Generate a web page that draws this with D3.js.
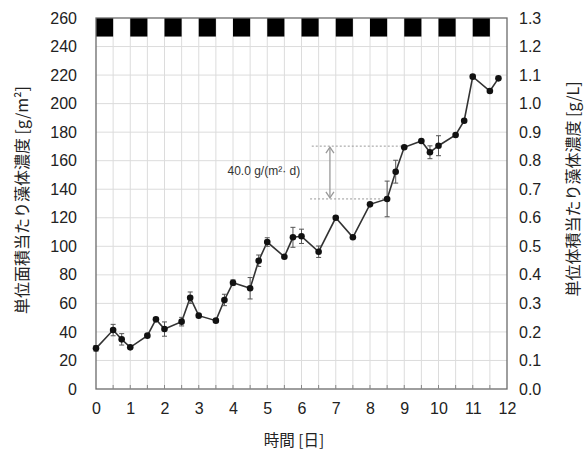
<!DOCTYPE html>
<html><head><meta charset="utf-8">
<script src="https://cdn.jsdelivr.net/npm/d3@7"></script>
<style>body{margin:0;background:#fff}svg{display:block}</style>
</head><body>
<svg id="c" width="586" height="453"></svg>
<script>
// ---- data ----
const days = [0,0.5,0.75,1,1.5,1.75,2,2.5,2.75,3,3.5,3.75,4,4.5,4.75,5,5.5,5.75,6,6.5,7,7.5,8,8.5,8.75,9,9.5,9.75,10,10.5,10.75,11,11.5,11.75];
const density = [28.5,41.3,34.8,29.2,37.4,48.8,42,47.2,64,51.4,47.9,62.4,74.5,70.6,89.9,103,92.7,106.3,107,96.2,120,106.3,129.4,133.2,152.3,169.4,173.8,165.9,170.5,178,188,218.9,208.8,217.7];
const errors = [2,4,4,0,1,1,5,3,4,0,1,4,2,7.5,4,3,0,7,5,4,0,0,0,12.5,8,0,0,4.5,7,0,0,0,0,0];
const darkStart = [0,1,2,3,4,5,6,7,8,9,10,11];
const darkLength = 0.5;
const darkBand = [247,260];
const xTicks = [0,1,2,3,4,5,6,7,8,9,10,11,12];
const yTicksLeft = [0,20,40,60,80,100,120,140,160,180,200,220,240,260];
const yTicksRight = [0,0.1,0.2,0.3,0.4,0.5,0.6,0.7,0.8,0.9,1.0,1.1,1.2,1.3];
const annotTop = {y:170.2, x0:6.3, x1:9.0};
const annotBottom = {y:133.2, x0:6.25, x1:8.5};
const annotArrowX = 6.83;
const annotText = "40.0 g/(m²· d)";
const annotTextPos = {x:4.9, y:150};

// ---- chart ----
const svg = d3.select("#c");
const FONT = "'Liberation Sans', 'Noto Sans CJK JP', sans-serif";
const CJK = "'Noto Sans CJK JP', sans-serif";
const x = d3.scaleLinear().domain([0,12]).range([96,507]);
const y = d3.scaleLinear().domain([0,260]).range([389,18]);
const y2 = d3.scaleLinear().domain([0,1.3]).range([389,18]);

// grid
const grid = svg.append("g");
grid.selectAll("line.v").data(d3.range(0.5,12,0.5)).join("line")
  .attr("x1",d=>x(d)).attr("x2",d=>x(d)).attr("y1",y(0)).attr("y2",y(260))
  .attr("stroke","#dcdcdc").attr("stroke-width",1);
grid.selectAll("line.h").data(yTicksLeft.filter(d=>d>0&&d<260)).join("line")
  .attr("x1",x(0)).attr("x2",x(12)).attr("y1",d=>y(d)).attr("y2",d=>y(d))
  .attr("stroke","#dcdcdc").attr("stroke-width",1);

// dark periods
svg.append("g").selectAll("rect").data(darkStart).join("rect")
  .attr("x",d=>x(d)).attr("width",d=>x(d+darkLength)-x(d))
  .attr("y",y(darkBand[1])).attr("height",y(darkBand[0])-y(darkBand[1]))
  .attr("fill","#000");

// frame
svg.append("rect").attr("x",x(0)).attr("y",y(260)).attr("width",x(12)-x(0)).attr("height",y(0)-y(260))
  .attr("fill","none").attr("stroke","#6a6a6a").attr("stroke-width",1.3);

// x ticks inward
svg.append("g").selectAll("line").data(d3.range(0.5,12,0.5)).join("line")
  .attr("x1",d=>x(d)).attr("x2",d=>x(d)).attr("y1",y(0)).attr("y2",y(0)-4)
  .attr("stroke","#888");

// axes labels
const xAxis = d3.axisBottom(x).tickValues(xTicks).tickSize(0).tickPadding(14).tickFormat(d3.format("d"));
const gx = svg.append("g").attr("transform",`translate(0,${y(0)})`).call(xAxis);
gx.select(".domain").remove();
gx.selectAll("text").attr("font-size",16).attr("font-family",FONT).attr("fill","#222");

const yAxisL = d3.axisLeft(y).tickValues(yTicksLeft).tickSize(0).tickPadding(19).tickFormat(d3.format("d"));
const gy = svg.append("g").attr("transform",`translate(${x(0)},0)`).call(yAxisL);
gy.select(".domain").remove();
gy.selectAll("text").attr("font-size",16).attr("font-family",FONT).attr("fill","#222");

const yAxisR = d3.axisRight(y2).tickValues(yTicksRight).tickSize(0).tickPadding(12).tickFormat(d3.format(".1f"));
const gy2 = svg.append("g").attr("transform",`translate(${x(12)},0)`).call(yAxisR);
gy2.select(".domain").remove();
gy2.selectAll("text").attr("font-size",16).attr("font-family",FONT).attr("fill","#222");

// titles
svg.append("text").attr("x",294).attr("y",446).attr("text-anchor","middle")
  .attr("font-size",15.5).attr("font-family",CJK).attr("fill","#222").text("時間 [日]");
svg.append("text").attr("transform","translate(28,200) rotate(-90)").attr("text-anchor","middle")
  .attr("font-size",16).attr("font-family",CJK).attr("fill","#222").text("単位面積当たり藻体濃度 [g/m²]");
svg.append("text").attr("transform","translate(579,189) rotate(-90)").attr("text-anchor","middle")
  .attr("font-size",16).attr("font-family",CJK).attr("fill","#222").text("単位体積当たり藻体濃度 [g/L]");

// annotation
const ann = svg.append("g");
[annotTop, annotBottom].forEach(a=>{
  ann.append("line").attr("x1",x(a.x0)).attr("x2",x(a.x1)).attr("y1",y(a.y)).attr("y2",y(a.y))
    .attr("stroke","#999").attr("stroke-dasharray","2,2").attr("stroke-width",1);
});
const ax = x(annotArrowX), ayt = y(annotTop.y)+1, ayb = y(annotBottom.y)-1;
ann.append("line").attr("x1",ax).attr("x2",ax).attr("y1",ayt).attr("y2",ayb).attr("stroke","#999").attr("stroke-width",1.3);
ann.append("path").attr("d",`M${ax-4},${ayt+6}L${ax},${ayt}L${ax+4},${ayt+6}M${ax-4},${ayb-6}L${ax},${ayb}L${ax+4},${ayb-6}`)
  .attr("fill","none").attr("stroke","#999").attr("stroke-width",1.3);
ann.append("text").attr("x",x(annotTextPos.x)).attr("y",y(annotTextPos.y)).attr("text-anchor","middle")
  .attr("font-size",12).attr("font-family",FONT).attr("fill","#333").text(annotText);

// data
const pts = days.map((d,i)=>({d, v:density[i], e:errors[i]}));
svg.append("path").datum(pts).attr("fill","none").attr("stroke","#333").attr("stroke-width",1.6)
  .attr("d",d3.line().x(p=>x(p.d)).y(p=>y(p.v)));
const eb = svg.append("g").attr("stroke","#555").attr("stroke-width",1);
pts.filter(p=>p.e>0).forEach(p=>{
  const cx=x(p.d), t=y(p.v+p.e), b=y(p.v-p.e);
  eb.append("line").attr("x1",cx).attr("x2",cx).attr("y1",t).attr("y2",b);
  eb.append("line").attr("x1",cx-2.5).attr("x2",cx+2.5).attr("y1",t).attr("y2",t);
  eb.append("line").attr("x1",cx-2.5).attr("x2",cx+2.5).attr("y1",b).attr("y2",b);
});
svg.append("g").selectAll("circle").data(pts).join("circle")
  .attr("cx",p=>x(p.d)).attr("cy",p=>y(p.v)).attr("r",3.3).attr("fill","#111");
</script>
</body></html>
